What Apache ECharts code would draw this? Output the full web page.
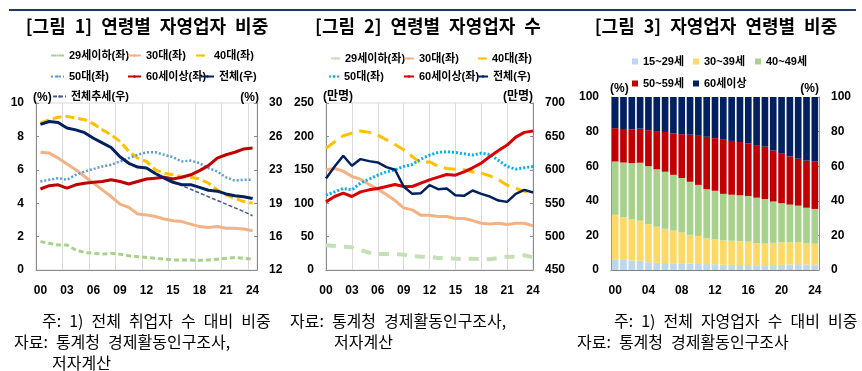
<!DOCTYPE html>
<html><head><meta charset="utf-8">
<script src="https://cdn.jsdelivr.net/npm/echarts@6/dist/echarts.min.js"></script>
<style>html,body{margin:0;padding:0;background:#fff}#c{width:862px;height:371px}</style>
</head><body><div id="c"></div>
<script>
// ---------- DATA ----------
const years = ['00','01','02','03','04','05','06','07','08','09','10','11','12','13','14','15','16','17','18','19','20','21','22','23','24'];

// Figure 1: share of total employed (%), left axis; total on right axis
const f1_u29   = [1.7,1.6,1.5,1.5,1.2,1.05,1.0,0.95,1.0,0.95,0.85,0.8,0.75,0.7,0.65,0.6,0.6,0.6,0.58,0.6,0.65,0.7,0.75,0.7,0.65];
const f1_30s   = [7.05,7.0,6.7,6.35,6.0,5.6,5.2,4.8,4.4,3.95,3.75,3.35,3.3,3.2,3.05,2.95,2.9,2.75,2.6,2.55,2.6,2.5,2.5,2.45,2.35];
const f1_40s   = [8.8,9.0,9.15,9.2,9.1,9.0,8.75,8.4,8.1,7.7,7.1,6.7,6.5,6.0,5.8,5.7,5.6,5.55,5.45,5.2,4.8,4.5,4.3,4.1,4.0];
const f1_50s   = [5.3,5.4,5.5,5.4,5.7,5.9,6.05,6.2,6.3,6.5,6.7,6.9,7.05,7.05,6.9,6.75,6.5,6.55,6.4,6.1,5.9,5.55,5.35,5.4,5.4];
const f1_60p   = [4.85,5.05,5.1,4.9,5.1,5.2,5.25,5.3,5.4,5.3,5.15,5.3,5.45,5.5,5.55,5.45,5.55,5.7,5.95,6.25,6.7,6.9,7.05,7.25,7.3];
const f1_total = [27.7,28.0,27.9,27.3,27.1,26.8,26.2,25.7,25.2,24.2,23.5,23.1,23.0,22.4,21.9,21.45,21.2,21.2,20.9,20.6,20.5,20.2,20.0,19.9,19.7];
const f1_trend = [null,null,null,null,null,null,null,null,null,null,null,null,null,null,null,21.45,21.1,20.7,20.3,19.9,19.5,19.1,18.7,18.3,17.85];

// Figure 2: number of self-employed (10k persons)
const f2_u29   = [37,36,35,34,30,26,24,24,24,23,21,20,20,18,18,17,17,17,16,16,18,20,20,22,19];
const f2_30s   = [150,152,148,140,136,128,121,113,104,93,90,82,82,80,80,77,77,74,70,69,70,68,70,70,66];
const f2_40s   = [182,192,201,205,208,206,202,195,188,180,170,160,162,155,152,151,150,147,145,141,135,127,122,118,115];
const f2_50s   = [112,117,122,120,130,136,142,147,150,155,158,166,172,176,177,176,174,172,175,173,164,155,151,153,155];
const f2_60p   = [102,110,115,110,117,120,122,125,128,125,125,130,135,139,143,142,147,153,160,170,179,187,199,206,208];
const f2_total = [587,605,621,606,616,613,611,604,600,575,564,565,577,571,572,562,561,569,564,560,554,552,564,570,566];

// Figure 3: composition of self-employed by age (%)
const f3_15_29 = [6.2,5.8,5.5,5.3,4.5,4.2,4.0,3.9,3.9,3.7,3.5,3.4,3.3,3.1,3.0,2.9,2.9,2.8,2.8,2.9,3.0,3.2,3.4,3.2,3.0];
const f3_30_39 = [25.7,24.7,23.7,23.2,22.0,20.8,19.8,18.9,17.8,16.6,16.2,14.9,14.5,14.1,13.9,13.7,13.5,12.8,12.5,12.8,12.9,12.8,12.8,12.4,12.2];
const f3_40_49 = [30.8,31.6,32.6,33.5,33.5,33.2,33.0,32.2,31.5,30.7,29.5,28.4,28.0,26.8,26.6,26.6,26.4,26.2,25.7,23.9,22.7,21.8,21.0,20.4,20.1];
const f3_50_59 = [19.3,19.4,19.4,19.7,20.8,22.1,23.0,24.0,25.3,27.2,28.8,30.3,30.4,31.3,31.1,30.8,30.4,30.4,30.3,29.4,28.6,27.9,27.1,27.2,27.3];
const f3_60p   = [18.0,18.5,18.8,18.3,19.2,19.7,20.2,21.0,21.5,21.8,22.0,23.0,23.8,24.7,25.4,26.0,26.8,27.8,28.7,31.0,32.8,34.3,35.7,36.8,37.4];

// ---------- STYLE ----------
const NUM = "'Liberation Sans Narrow','Liberation Sans','Noto Sans CJK KR',sans-serif";
const C = {u29:'#a9d18e', u29b:'#c5e0b4', s30:'#f4b183', s40:'#ffc000', s50:'#5b9bd5', s50b:'#00b0f0', s60:'#c00000', tot:'#002060', trend:'#4a5a96',
           b15:'#bdd7ee', b30:'#ffd966', b40:'#a9d18e', b50:'#c00000', b60:'#002060'};
const axisLbl = {fontFamily: NUM, fontWeight:'bold', fontSize: 12, color:'#000'};
const legTxt = {fontFamily: NUM, fontWeight:'bold', fontSize: 11, color:'#000'};
const SP = '\u2002';

function leg(name, left, cy, w, h, icon) {
  const o = {data:[name], left:left, top: cy - 7, itemWidth:w, itemHeight: h || 3, padding:0, itemGap:0,
             textStyle: legTxt, selectedMode:false};
  if (icon) o.icon = icon;
  return o;
}
function yAx(grid, min, max, interval, pos, fmt) {
  return {type:'value', gridIndex:grid, min:min, max:max, interval:interval, position:pos,
    axisLine:{show:true, lineStyle:{color:'#8c8c8c'}},
    axisTick:{show:true, inside:true, length:3, lineStyle:{color:'#8c8c8c'}},
    splitLine:{show:false},
    axisLabel:Object.assign({margin:12, formatter: fmt || undefined}, axisLbl)};
}
function line(name, data, x, y, color, width, type, z) {
  return {name:name, type:'line', xAxisIndex:x, yAxisIndex:y, data:data, symbol:'none', z: z || 2,
    lineStyle:{color:color, width:width, type:type || 'solid'}, itemStyle:{color:color}};
}
function bar(name, data, color) {
  return {name:name, type:'bar', stack:'f3', xAxisIndex:2, yAxisIndex:4, data:data, barCategoryGap:'20%',
    itemStyle:{color:color}};
}
function txt(text, x, y, font, align) {
  return {type:'text', silent:true, style:{text:text, x:x, y:y, textAlign: align || 'left', textVerticalAlign:'middle', font:font, fill:'#000'}};
}
const TF = "bold 18px 'Noto Sans CJK KR'";
const FF = "16px 'Noto Sans CJK KR'";
const UF = "bold 12px " + NUM;

const option = {
  animation:false,
  backgroundColor:'#fff',
  grid:[
    {left:36, top:103, width:221, height:167, show:true, borderColor:'#d9d9d9', borderWidth:1},
    {left:326, top:103, width:207, height:167, show:true, borderColor:'#d9d9d9', borderWidth:1},
    {left:611, top:97, width:208, height:173}
  ],
  xAxis:[
    {type:'category', gridIndex:0, data:years, boundaryGap:true,
     axisLine:{lineStyle:{color:'#8c8c8c'}}, axisTick:{show:false},
     axisLabel:Object.assign({interval:2, margin:15}, axisLbl),
     splitLine:{show:true, interval:2, lineStyle:{color:'#d9d9d9'}}},
    {type:'category', gridIndex:1, data:years, boundaryGap:false,
     axisLine:{lineStyle:{color:'#8c8c8c'}}, axisTick:{show:false},
     axisLabel:Object.assign({interval:2, margin:15}, axisLbl),
     splitLine:{show:true, interval:2, lineStyle:{color:'#d9d9d9'}}},
    {type:'category', gridIndex:2, data:years, boundaryGap:true,
     axisLine:{lineStyle:{color:'#7f7f7f'}}, axisTick:{show:false},
     axisLabel:Object.assign({interval:3, margin:15}, axisLbl)}
  ],
  yAxis:[
    yAx(0, 0, 10, 2, 'left'),
    yAx(0, 12, 30, 3.6, 'right', v => String(Math.round(v))),
    yAx(1, 0, 250, 50, 'left'),
    yAx(1, 450, 700, 50, 'right'),
    yAx(2, 0, 100, 20, 'left'),
    yAx(2, 0, 100, 20, 'right')
  ],
  legend:[
    // figure 1
    leg('29세이하(좌)', 50, 57, 13, 3),
    leg('30대(좌)', 127, 57, 13, 3),
    leg('40대(좌)', 195, 57, 13, 3),
    leg('50대(좌)', 50, 78, 13, 3),
    leg('60세이상(좌)', 127, 78, 13, 3),
    leg('전체(우)', 200, 78, 13, 3),
    leg('전체추세(우)', 52, 98, 13, 3),
    // figure 2
    leg('29세이하(좌) ', 330, 60, 9, 3),
    leg('30대(좌) ', 403, 60, 10, 3),
    leg('40대(좌) ', 477, 60, 9, 3),
    leg('50대(좌) ', 328, 78, 10, 3),
    leg('60세이상(좌) ', 403, 78, 10, 3),
    leg('전체(우) ', 477, 78, 10, 3),
    // figure 3
    leg('15~29세', 632, 63, 6, 6, 'rect'),
    leg('30~39세', 693, 63, 6, 6, 'rect'),
    leg('40~49세', 755, 63, 6, 6, 'rect'),
    leg('50~59세', 632, 85, 6, 6, 'rect'),
    leg('60세이상', 693, 85, 6, 6, 'rect')
  ],
  series:[
    line('29세이하(좌)', f1_u29, 0, 0, C.u29, 3, [5,3]),
    line('30대(좌)', f1_30s, 0, 0, C.s30, 3),
    line('40대(좌)', f1_40s, 0, 0, C.s40, 3, [9,4]),
    line('50대(좌)', f1_50s, 0, 0, C.s50, 2.5, [2,2]),
    line('60세이상(좌)', f1_60p, 0, 0, C.s60, 3),
    line('전체(우)', f1_total, 0, 1, C.tot, 3, 'solid', 4),
    line('전체추세(우)', f1_trend, 0, 1, C.trend, 1.5, [4,2], 3),

    line('29세이하(좌) ', f2_u29, 1, 2, C.u29b, 4, [10,8]),
    line('30대(좌) ', f2_30s, 1, 2, C.s30, 3),
    line('40대(좌) ', f2_40s, 1, 2, C.s40, 3, [12,7]),
    line('50대(좌) ', f2_50s, 1, 2, C.s50b, 3, [2,2]),
    line('60세이상(좌) ', f2_60p, 1, 2, '#d90000', 3),
    line('전체(우) ', f2_total, 1, 3, C.tot, 2.5, 'solid', 4),

    bar('15~29세', f3_15_29, C.b15),
    bar('30~39세', f3_30_39, C.b30),
    bar('40~49세', f3_40_49, C.b40),
    bar('50~59세', f3_50_59, C.b50),
    bar('60세이상', f3_60p, C.b60)
  ],
  graphic:[
    {type:'line', shape:{x1:9, y1:10, x2:856, y2:10}, style:{stroke:'#1f3864', lineWidth:2}, silent:true},
    txt(['[그림', '1]', '연령별', '자영업자', '비중'].join(SP), 147, 26, TF, 'center'),
    txt(['[그림', '2]', '연령별', '자영업자', '수'].join(SP), 428, 26, TF, 'center'),
    txt(['[그림', '3]', '자영업자', '연령별', '비중'].join(SP), 716, 26, TF, 'center'),
    // units
    txt('(%)', 33, 98, UF),
    txt('(%)', 259, 98, UF, 'right'),
    txt('(만명)', 323, 97, UF),
    txt('(만명)', 533, 97, UF, 'right'),
    txt('(%)', 610, 89, UF),
    txt('(%)', 819, 89, UF, 'right'),
    // footnotes
    txt(['주:', '1)', '전체', '취업자', '수', '대비', '비중'].join(SP), 42, 321, FF),
    txt(['자료:', '통계청', '경제활동인구조사,'].join(SP), 14, 342, FF),
    txt('저자계산', 52, 363, FF),
    txt(['자료:', '통계청', '경제활동인구조사,'].join(SP), 290, 321, FF),
    txt('저자계산', 334, 342, FF),
    txt(['주:', '1)', '전체', '자영업자', '수', '대비', '비중'].join(SP), 614, 321, FF),
    txt(['자료:', '통계청', '경제활동인구조사'].join(SP), 577, 342, FF)
  ]
};
const chart = echarts.init(document.getElementById('c'), null, {renderer:'canvas'});
chart.setOption(option);
</script></body></html>
